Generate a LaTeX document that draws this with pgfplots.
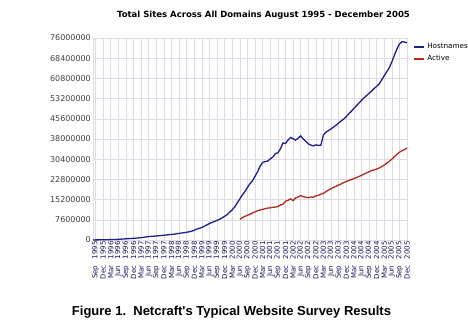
\documentclass[border=0pt]{standalone}
\usepackage{pgfplots}
\pgfplotsset{compat=1.18}
\usepackage{fontspec}
\setmainfont{DejaVu Sans}
\newfontfamily\capfont{Liberation Sans}
\definecolor{hostblue}{RGB}{30,30,140}
\definecolor{actred}{RGB}{180,40,30}
\definecolor{gridc}{RGB}{225,218,228}
\begin{document}
\begin{tikzpicture}
\path[use as bounding box] (-93pt,-81pt) rectangle (375pt,240pt);
\begin{axis}[
  at={(0pt,0pt)}, anchor=south west,
  scale only axis, width=314pt, height=202pt,
  xmin=-1, xmax=123, ymin=0, ymax=76,
  axis line style={gridc},
  tick style={draw=none},
  grid=major, grid style={gridc, line width=0.5pt},
  xtick={0,3,...,123},
  xticklabels={Sep\ \ \ 1995,Dec\ \ \ 1995,Mar\ \ \ 1996,Jun\ \ \ 1996,Sep\ \ \ 1996,Dec\ \ \ 1996,Mar\ \ \ 1997,Jun\ \ \ 1997,Sep\ \ \ 1997,Dec\ \ \ 1997,Mar\ \ \ 1998,Jun\ \ \ 1998,Sep\ \ \ 1998,Dec\ \ \ 1998,Mar\ \ \ 1999,Jun\ \ \ 1999,Sep\ \ \ 1999,Dec\ \ \ 1999,Mar\ \ \ 2000,Jun\ \ \ 2000,Sep\ \ \ 2000,Dec\ \ \ 2000,Mar\ \ \ 2001,Jun\ \ \ 2001,Sep\ \ \ 2001,Dec\ \ \ 2001,Mar\ \ \ 2002,Jun\ \ \ 2002,Sep\ \ \ 2002,Dec\ \ \ 2002,Mar\ \ \ 2003,Jun\ \ \ 2003,Sep\ \ \ 2003,Dec\ \ \ 2003,Mar\ \ \ 2004,Jun\ \ \ 2004,Sep\ \ \ 2004,Dec\ \ \ 2004,Mar\ \ \ 2005,Jun\ \ \ 2005,Sep\ \ \ 2005,Dec\ \ \ 2005},
  x tick label style={rotate=90, anchor=east, font=\fontsize{7}{8}\selectfont, text=hostblue!60!black, inner sep=1pt},
  ytick={0,7.6,15.2,22.8,30.4,38,45.6,53.2,60.8,68.4,76},
  yticklabels={0,7600000,15200000,22800000,30400000,38000000,45600000,53200000,60800000,68400000,76000000},
  y tick label style={font=\fontsize{8}{9}\selectfont, text=black!75, inner sep=2pt},
  legend style={draw=none, fill=none, at={(1.02,0.985)}, anchor=north west,
    font=\fontsize{7.2}{8}\selectfont, row sep=1.5pt, inner sep=0pt},
  legend cell align=left,
  legend image code/.code={\draw[#1, line width=1.8pt] (0pt,0pt) -- (10pt,0pt);},
]
\addplot[hostblue, line width=1.3pt] coordinates {
(-1,0.02) (2,0.07) (4,0.10) (6,0.15) (9,0.25) (12,0.45) (16,0.7) (19,1.0) (21,1.3)
(24,1.5) (28,1.9) (31,2.2) (33,2.5) (36,2.9) (38,3.3) (40,4.1) (42,4.7) (45,6.2)
(47,7.0) (49,7.8) (51,8.9) (52,9.6) (53,10.5) (54,11.4) (55,12.5) (56,14.0) (57,15.5)
(58,17.0) (59,18.2) (60,19.8) (61,21.2) (62,22.3) (63,24.0) (64,25.7) (65,27.8)
(66,29.2) (67,29.5) (68,29.7) (69,30.5) (70,31.2) (71,32.5) (72,32.8) (73,34.3)
(74,36.5) (75,36.3) (76,37.6) (77,38.6) (78,38.1) (79,37.6) (80,38.3) (81,39.2)
(82,38.0) (83,37.2) (84,36.2) (85,35.7) (86,35.4) (87,35.8) (88,35.6) (89,35.7)
(90,39.5) (91,40.6) (92,41.2) (93,41.8) (94,42.5) (95,43.2) (96,44.0) (97,44.8)
(98,45.5) (99,46.4) (100,47.5) (101,48.4) (102,49.5) (103,50.5) (104,51.5) (105,52.5)
(106,53.5) (107,54.3) (108,55.2) (109,56.0) (110,57.0) (111,57.8) (112,58.7) (113,60.2)
(114,61.8) (115,63.3) (116,64.8) (117,67.0) (118,69.5) (119,71.8) (120,73.7) (121,74.6)
(122,74.5) (123,74.2)
};
\addlegendentry{Hostnames}
\addplot[actred, line width=1.3pt] coordinates {
(57,7.8) (58,8.4) (59,8.9) (60,9.3) (61,9.7) (62,10.2) (63,10.6) (64,11.0) (65,11.3)
(66,11.5) (67,11.8) (68,12.0) (69,12.1) (70,12.3) (71,12.4) (72,12.6) (73,13.2)
(74,13.4) (75,14.6) (76,14.9) (77,15.5) (78,14.8) (79,15.8) (80,16.2) (81,16.7)
(82,16.3) (83,16.1) (84,15.9) (85,16.2) (86,16.1) (87,16.6) (88,16.8) (89,17.2)
(90,17.6) (91,18.2) (92,18.8) (93,19.3) (94,19.8) (95,20.2) (96,20.7) (97,21.1)
(98,21.6) (99,22.0) (100,22.4) (101,22.7) (102,23.1) (103,23.5) (104,23.9) (105,24.3)
(106,24.8) (107,25.2) (108,25.7) (109,26.1) (110,26.4) (111,26.7) (112,27.1) (113,27.6)
(114,28.2) (115,28.9) (116,29.6) (117,30.4) (118,31.3) (119,32.2) (120,33.0) (121,33.6)
(122,34.0) (123,34.6)
};
\addlegendentry{Active}
\end{axis}
\node[font=\bfseries\fontsize{8.5}{9}\selectfont] at (170.5pt,225pt) {Total Sites Across All Domains August 1995 - December 2005};
\node[font=\capfont\bfseries\fontsize{13}{14}\selectfont] at (138.5pt,-72pt) {Figure 1.\ \ Netcraft's Typical Website Survey Results};
\end{tikzpicture}
\end{document}
